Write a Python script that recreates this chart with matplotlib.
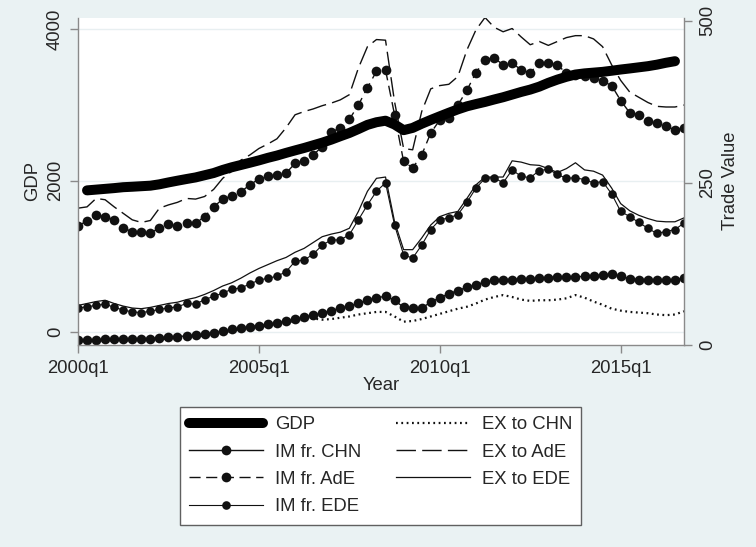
import numpy as np
import matplotlib
matplotlib.use('Agg')
import matplotlib.pyplot as plt
from matplotlib.transforms import blended_transform_factory

# quarterly observations 2000q1 .. 2016q4
quarters = ['%dq%d' % (2000 + k // 4, k % 4 + 1) for k in range(68)]

# GDP (left axis), no obs for 2000q1 and 2016q4
gdp = [None, 1870, 1880, 1890, 1900, 1912, 1918, 1925, 1932, 1950,
       1975, 1998, 2020, 2041, 2070, 2099, 2140, 2175, 2205, 2235,
       2266, 2300, 2330, 2365, 2398, 2430, 2465, 2500, 2540, 2585,
       2628, 2680, 2735, 2770, 2790, 2740, 2665, 2695, 2750, 2800,
       2848, 2895, 2940, 2980, 3010, 3038, 3070, 3100, 3135, 3170,
       3201, 3240, 3290, 3333, 3370, 3400, 3415, 3425, 3435, 3450,
       3466, 3480, 3495, 3510, 3530, 3555, 3576, None]

# trade values (right axis)
im_chn = [8, 8, 8, 9, 9, 9, 9, 10, 10, 11, 12, 13, 14, 15, 17, 19, 21, 24,
          26, 28, 30, 32, 34, 37, 40, 43, 46, 49, 53, 57, 60, 64, 69, 73,
          75, 69, 58, 57, 57, 66, 73, 79, 84, 89, 93, 97, 100, 101, 101, 102,
          102, 103, 104, 105, 105, 105, 106, 107, 108, 109, 106, 102, 101, 101,
          100, 100, 101, 103]
im_ade = [184, 191, 200, 198, 193, 180, 175, 174, 172, 181, 186, 183, 188,
          188, 198, 213, 225, 230, 236, 247, 256, 260, 262, 265, 280, 284,
          293, 306, 329, 334, 348, 370, 397, 422, 424, 355, 283, 273, 293,
          327, 347, 350, 370, 393, 420, 440, 443, 432, 435, 424, 420, 435,
          435, 432, 419, 417, 415, 411, 407, 400, 377, 358, 355, 345, 342,
          337, 332, 335]
im_ede = [57, 59, 61, 63, 58, 54, 51, 50, 52, 55, 57, 59, 64, 63, 70, 75, 80,
          86, 88, 94, 100, 103, 106, 113, 129, 131, 140, 154, 162, 162, 170,
          193, 216, 237, 250, 185, 139, 134, 154, 178, 193, 196, 201, 220,
          242, 257, 258, 250, 270, 260, 258, 269, 271, 263, 257, 258, 255,
          250, 252, 233, 206, 198, 189, 180, 172, 175, 178, 188]
ex_chn = [6, 6, 6, 7, 7, 7, 7, 8, 8, 9, 10, 11, 12, 13, 15, 17, 19, 22, 24,
          26, 28, 30, 32, 35, 37, 39, 41, 39, 40, 42, 44, 47, 49, 51, 51, 44,
          36, 37, 40, 44, 48, 52, 56, 59, 64, 70, 74, 77, 74, 70, 68, 69, 69,
          70, 72, 77, 73, 67, 62, 56, 53, 51, 50, 49, 47, 46, 47, 52]
ex_ade = [211, 213, 226, 224, 213, 203, 193, 189, 192, 211, 216, 220, 226,
          225, 229, 240, 257, 268, 285, 293, 303, 310, 318, 335, 355, 360,
          364, 369, 373, 378, 386, 427, 460, 471, 470, 375, 303, 301, 360,
          395, 400, 402, 414, 455, 486, 505, 490, 483, 488, 475, 463, 468,
          462, 468, 474, 477, 477, 472, 460, 432, 408, 390, 382, 374, 368,
          367, 367, 370]
ex_ede = [61, 64, 67, 69, 64, 60, 57, 56, 58, 61, 64, 66, 70, 73, 78, 84, 91,
          96, 103, 111, 118, 124, 130, 135, 143, 149, 158, 167, 171, 174, 180,
          206, 237, 257, 259, 190, 147, 147, 165, 185, 198, 203, 206, 226,
          247, 259, 259, 259, 284, 282, 278, 277, 272, 266, 272, 281, 270,
          268, 262, 242, 218, 207, 200, 195, 191, 190, 190, 196]

year_ticks = ['2000q1', '2005q1', '2010q1', '2015q1']
gdp_ticks = [0, 2000, 4000]
trade_ticks = [0, 250, 500]

plt.rcParams['font.family'] = ['Liberation Sans', 'DejaVu Sans']
plt.rcParams['font.size'] = 13.3

bg = '#eaf2f3'
axcol = '#8a8a8a'
ink = '#111111'
txt = '#262626'

x = np.arange(len(quarters))
gdp_v = np.array([np.nan if v is None else v for v in gdp], dtype=float)

fig = plt.figure(figsize=(7.56, 5.47), dpi=100, facecolor=bg)
ax = fig.add_axes([78 / 756, 1 - 345 / 547, 606 / 756, 327.5 / 547])  # trade value, right
ax2 = ax.twinx()  # GDP, left, drawn on top
ax.set_facecolor('white')

# faint grid at the GDP ticks
tr = blended_transform_factory(ax.transAxes, ax2.transData)
for t in gdp_ticks:
    ax.plot([0, 1], [t, t], color='#e8eff1', lw=1.0, transform=tr, zorder=0)

l_chn, = ax.plot(x, im_chn, '-', color=ink, lw=1.0, marker='o', ms=7,
                 mew=0, label='IM fr. CHN')
l_ade, = ax.plot(x, im_ade, color=ink, lw=1.0, ls=(0, (8, 4)), marker='o',
                 ms=7, mew=0, label='IM fr. AdE')
l_ede, = ax.plot(x, im_ede, '-', color=ink, lw=0.8, marker='o', ms=6.2,
                 mew=0, label='IM fr. EDE')
e_chn, = ax.plot(x, ex_chn, color=ink, lw=1.6, ls=(0, (0.8, 1.6)),
                 label='EX to CHN')
e_ade, = ax.plot(x, ex_ade, color=ink, lw=1.0, ls=(0, (14, 4.5)),
                 label='EX to AdE')
e_ede, = ax.plot(x, ex_ede, '-', color=ink, lw=0.9, label='EX to EDE')
g, = ax2.plot(x, gdp_v, '-', color='black', lw=7.2, solid_capstyle='round',
              label='GDP')

ax.set_xlim(0, len(quarters) - 1)
ax.set_ylim(0, 505)
ax2.set_ylim(-172, 4153)

ax.yaxis.tick_right()
ax.yaxis.set_label_position('right')
ax2.yaxis.tick_left()
ax2.yaxis.set_label_position('left')

ax.set_xticks([quarters.index(q) for q in year_ticks])
ax.set_xticklabels(year_ticks)
ax.set_yticks(trade_ticks)
ax2.set_yticks(gdp_ticks)

for a in (ax, ax2):
    for s in a.spines.values():
        s.set_visible(False)
ax.spines['bottom'].set_visible(True)
ax.spines['right'].set_visible(True)
ax2.spines['left'].set_visible(True)
for s in (ax.spines['bottom'], ax.spines['right'], ax2.spines['left']):
    s.set_color(axcol)
    s.set_linewidth(1.0)

ax.tick_params(axis='x', direction='out', length=6, width=1, color=axcol,
               labelcolor=txt, pad=4.7)
ax.tick_params(axis='y', direction='out', length=6, width=1, color=axcol,
               labelcolor=txt, pad=5.2, labelrotation=90)
ax2.tick_params(axis='y', direction='out', length=6, width=1, color=axcol,
                labelcolor=txt, pad=4.2, labelrotation=90)
for lab in ax.get_yticklabels() + ax2.get_yticklabels():
    lab.set_va('center')

ax.set_xlabel('Year', color=txt, labelpad=0)
ax.set_ylabel('Trade Value', color=txt, rotation=90, labelpad=4)
ax2.set_ylabel('GDP', color=txt, labelpad=4)

handles = [g, l_chn, l_ade, l_ede, e_chn, e_ade, e_ede]
leg = fig.legend(handles, [h.get_label() for h in handles], ncol=2,
                 loc='upper center', bbox_to_anchor=(380.5 / 756, 1 - 407 / 547),
                 bbox_transform=fig.transFigure, borderaxespad=0,
                 frameon=True, fancybox=False, framealpha=1, edgecolor='#606060',
                 handlelength=4.0, handletextpad=0.65, columnspacing=1.9,
                 labelspacing=0.56, borderpad=0.5)
leg.get_frame().set_linewidth(1.0)
for t in leg.get_texts():
    t.set_color(txt)

fig.savefig('out.png', dpi=100, facecolor=bg)
